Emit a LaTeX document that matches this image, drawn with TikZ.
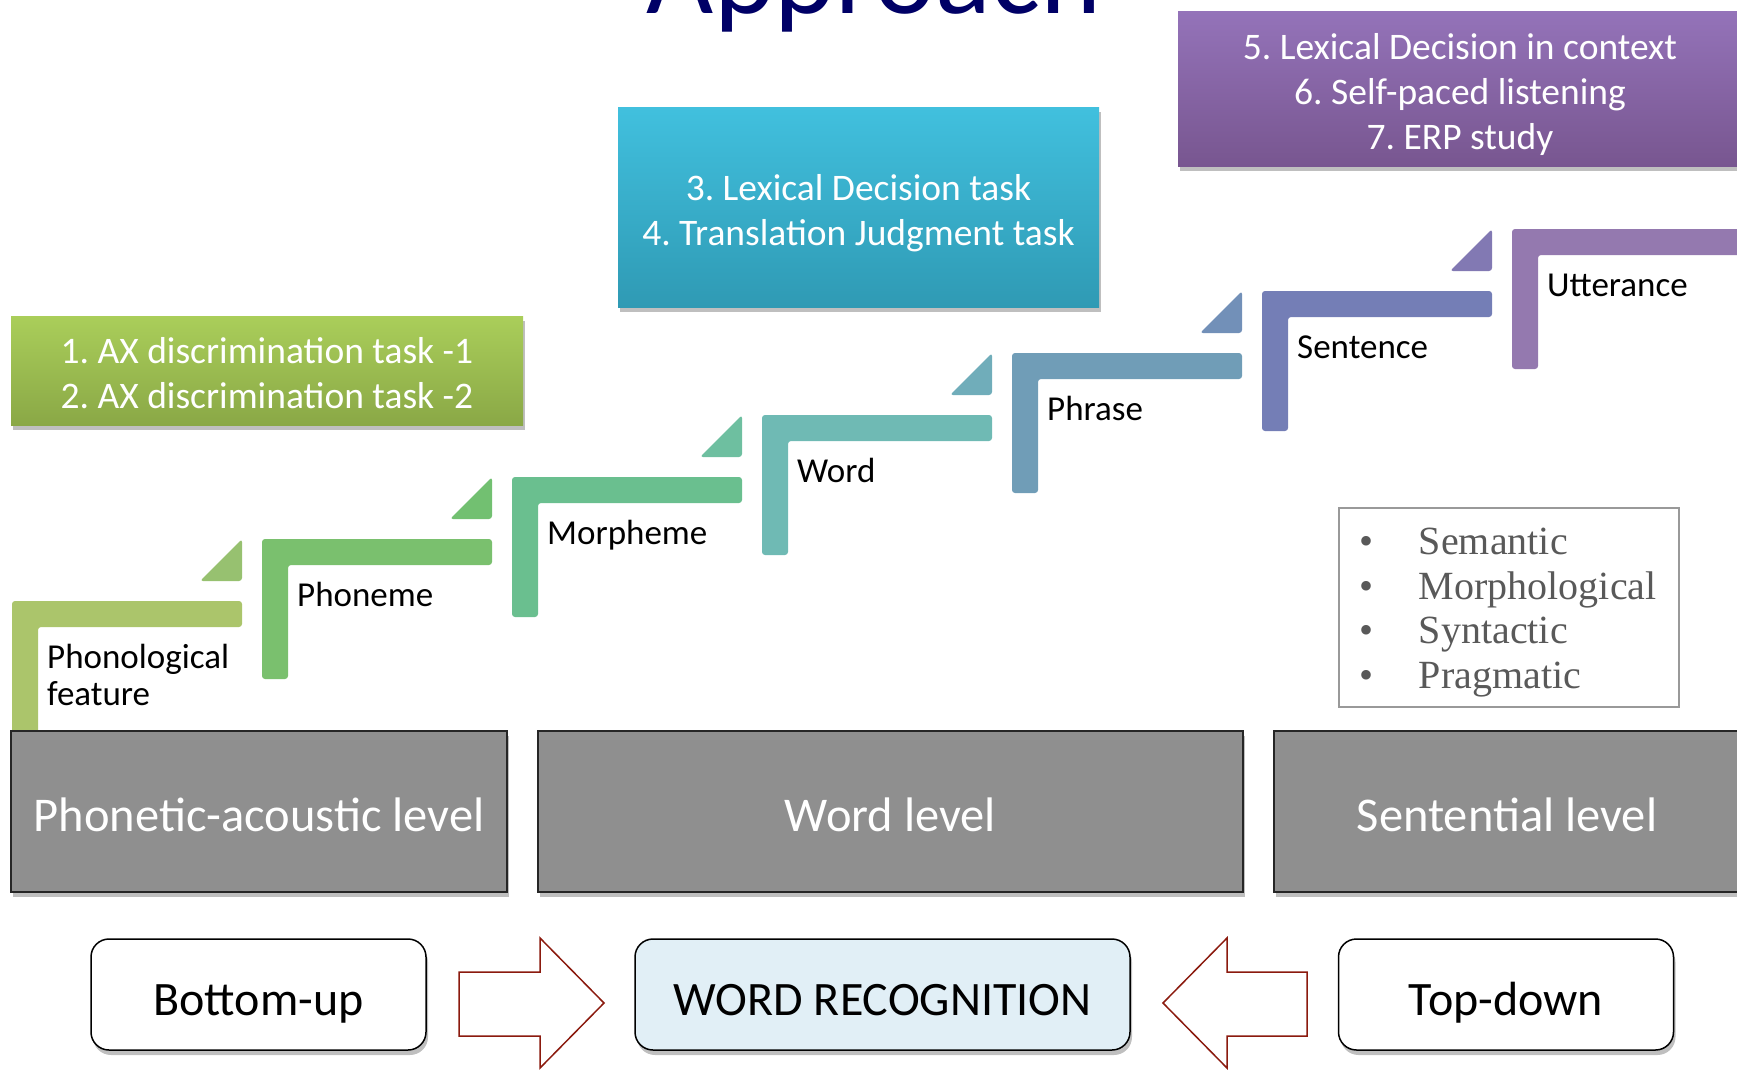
\documentclass[tikz,border=0pt]{standalone}
\usepackage{fontspec}
\setmainfont{Carlito}
\newfontfamily\cuefont{Liberation Serif}
\usepackage{xcolor}
\usepackage{tikz}
\usetikzlibrary{shadows}
\frenchspacing
\definecolor{navy}{HTML}{000066}
\definecolor{greentop}{HTML}{AACE5A}
\definecolor{greenbot}{HTML}{8AA846}
\definecolor{cyantop}{HTML}{41C0DE}
\definecolor{cyanbot}{HTML}{2F9AB4}
\definecolor{purptop}{HTML}{9473B9}
\definecolor{purpbot}{HTML}{785690}
\definecolor{levelgray}{HTML}{8F8F8F}
\definecolor{recog}{HTML}{E1EFF6}
\definecolor{arrred}{HTML}{8B1A0E}
\definecolor{cuegray}{HTML}{595959}
\definecolor{s0}{HTML}{ABC56B}
\definecolor{s1}{HTML}{7AC06E}
\definecolor{s2}{HTML}{6ABF8F}
\definecolor{s3}{HTML}{6FBAB4}
\definecolor{s4}{HTML}{709DB7}
\definecolor{s5}{HTML}{747EB6}
\definecolor{s6}{HTML}{9479AF}
\definecolor{t0}{HTML}{97C170}
\definecolor{t1}{HTML}{72C071}
\definecolor{t2}{HTML}{6EBFA0}
\definecolor{t3}{HTML}{70ADBA}
\definecolor{t4}{HTML}{7290B8}
\definecolor{t5}{HTML}{8279B3}
\newcommand{\cue}[1]{\makebox[60pt][l]{\textbullet}#1}
\tikzset{
  shade/.style={drop shadow={shadow xshift=2pt, shadow yshift=-5pt, fill=black, opacity=.25}},
  task/.style={shade, inner sep=0pt},
  tasktext/.style={text=white, align=center, inner sep=0pt, font=\fontsize{37.5}{45}\selectfont},
  level/.style={shade, draw=black!85, line width=1.5pt, fill=levelgray, text=white, inner sep=0pt,
    minimum height=161pt, text height=40pt, text depth=0pt, font=\fontsize{48.5}{52}\selectfont},
  way/.style={shade, draw=black, line width=1.5pt, rounded corners=18pt, fill=white, inner sep=0pt,
    minimum width=335pt, minimum height=111pt, text height=41pt, text depth=0pt, font=\fontsize{48}{52}\selectfont},
  blockarr/.style={draw=arrred, line width=1.5pt, fill=white, line join=miter},
  stair/.style={rounded corners=3pt},
  steplab/.style={anchor=base west, inner sep=0pt, align=left, font=\fontsize{35}{37}\selectfont},
  cues/.style={draw=black!40, line width=1.5pt, inner sep=0pt},
  cuetext/.style={text=cuegray, inner sep=0pt, text width=300pt, align=left, font=\cuefont\fontsize{40}{44.5}\selectfont},
}

\begin{document}
\begin{tikzpicture}[x=1pt,y=-1pt]
  \useasboundingbox (0,0) rectangle (1737,1069);
  \clip (0,0) rectangle (1737,1069);
  \node[font=\fontsize{116}{120}\selectfont, text=navy, anchor=base, inner sep=0pt] (title) at (874,13) {Approach};

  \foreach \i/\sc/\tc in {0/s0/t0,1/s1/t1,2/s2/t2,3/s3/t3,4/s4/t4,5/s5/t5,6/s6/t5} {
    \pgfmathsetmacro\x{12+250*\i}
    \pgfmathsetmacro\y{601-62*\i}
    \fill[stair,fill=\sc] (\x,\y) -- ++(230,0) -- ++(0,26) -- ++(-204,0) -- ++(0,114) -- ++(-26,0) -- cycle;
    \ifnum\i<6
      \fill[stair,fill=\tc] (\x+188,\y-20) -- (\x+230,\y-20) -- (\x+230,\y-62) -- cycle;
    \fi
  }
  \node[steplab] (lab0) at (47,705) {Phonological\\feature};
  \foreach \i/\txt in {1/Phoneme,2/Morpheme,3/Word,4/Phrase,5/Sentence,6/Utterance}
    \node[steplab] (lab\i) at ({47+250*\i},{668-62*\i}) {\txt};

  \node[task, top color=greentop, bottom color=greenbot, minimum width=512pt, minimum height=109pt] (taskA) at (267,370.5) {};
  \node[tasktext] at ([yshift=-3pt]taskA.center) {1. AX discrimination task -1\\2. AX discrimination task -2};
  \node[task, top color=cyantop, bottom color=cyanbot, minimum width=481pt, minimum height=200pt] (taskB) at (858.5,207) {};
  \node[tasktext] at ([yshift=-6pt]taskB.center) {3. Lexical Decision task\\4. Translation Judgment task};
  \node[task, top color=purptop, bottom color=purpbot, minimum width=564pt, minimum height=155pt] (taskC) at (1460,88.5) {};
  \node[tasktext] at ([yshift=-6pt]taskC.center) {5. Lexical Decision in context\\6. Self-paced listening\\7. ERP study};

  \node[cues, minimum width=340pt, minimum height=199pt] (cuebox) at (1509,607.5) {};
  \node[cuetext] (cuelist) at ([yshift=-5pt]cuebox.center)
    {\cue{Semantic}\\\cue{Morphological}\\\cue{Syntactic}\\\cue{Pragmatic}};

  \node[level, minimum width=496pt] (phon) at (259,811.5) {Phonetic-acoustic level};
  \node[level, minimum width=705pt] (wordlvl) at (890.5,811.5) {Word level};
  \node[level, minimum width=466pt] (sentlvl) at (1507,811.5) {Sentential level};

  \node[way] (bu) at (258.5,994.5) {Bottom-up};
  \node[way, fill=recog, minimum width=495pt] (wr) at (882.5,994.5) {WORD RECOGNITION};
  \node[way] (td) at (1506,994.5) {Top-down};

  \draw[blockarr] (459,972) -- (540,972) -- (540,938) -- (604,1003) -- (540,1068) -- (540,1036) -- (459,1036) -- cycle;
  \draw[blockarr] (1307,972) -- (1227,972) -- (1227,938) -- (1163,1003) -- (1227,1068) -- (1227,1036) -- (1307,1036) -- cycle;
\end{tikzpicture}
\end{document}
